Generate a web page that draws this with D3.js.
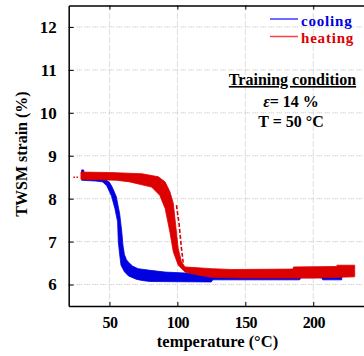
<!DOCTYPE html>
<html>
<head>
<meta charset="utf-8">
<script src="https://cdn.jsdelivr.net/npm/d3@7"></script>
<style>
  html, body { margin: 0; padding: 0; background: #fff; }
  svg { display: block; }
  text { font-family: "Liberation Serif", "Times New Roman", serif; font-weight: bold; }
</style>
</head>
<body>
<svg id="chart" width="364" height="356"></svg>
<script>
// Axis ticks
const xTicks = [50, 100, 150, 200];
const yTicks = [6, 7, 8, 9, 10, 11, 12];

// Cooling branch: outline of the overlaid cycles, [temperature °C, strain %]
const coolingUpper = [
  [29.5, 8.67], [31, 8.67], [31.5, 8.56], [40, 8.5], [46, 8.47], [50, 8.38],
  [52, 8.27], [55, 8.05], [57.5, 7.65], [59, 7.25], [60, 6.9], [61, 6.7],
  [62.5, 6.58], [64, 6.52], [67, 6.43], [71, 6.37], [80, 6.33], [91, 6.29],
  [105, 6.27], [130, 6.25], [221, 6.25]
];
const coolingLower = [
  [29.5, 8.43], [40, 8.41], [45, 8.39], [48, 8.3], [51.5, 8.06], [54, 7.77],
  [56, 7.46], [56.5, 7.0], [57.5, 6.7], [58.5, 6.45], [61, 6.3], [64, 6.2],
  [70, 6.12], [75, 6.09], [80, 6.07], [125, 6.06], [126, 6.11], [190, 6.11],
  [191, 6.16], [206, 6.16], [207, 6.11], [221, 6.11]
];

// Heating branch outline
const heatingUpper = [
  [29, 8.62], [50, 8.61], [74, 8.58], [86, 8.51], [91, 8.39], [94.5, 8.16],
  [97, 7.89], [98.2, 7.54], [100.6, 6.84], [103, 6.53], [105.6, 6.41],
  [110, 6.4], [125, 6.37], [140, 6.35], [185, 6.36], [185.5, 6.41],
  [217, 6.42], [217.5, 6.45], [230.5, 6.45]
];
const heatingLower = [
  [29, 8.45], [55, 8.43], [65, 8.39], [81, 8.27], [87, 8.08], [91, 7.77],
  [94.5, 7.22], [97, 6.76], [100.6, 6.45], [105.6, 6.29], [115, 6.22],
  [125, 6.17], [150, 6.15], [200, 6.15], [230.5, 6.18]
];
// Single dashed heating trace beside the transition
const heatingTrace = [[99.3, 7.85], [101.3, 7.4], [102.8, 6.9], [104.3, 6.5]];
// Short dashed lead-in at the start of heating
const heatingLead = [[23.5, 8.5], [27, 8.5]];

const legendItems = [
  { label: "cooling", color: "#0000e0", line: "#3a3aff" },
  { label: "heating", color: "#dd0000", line: "#ff4040" }
];

const svg = d3.select("#chart");
const x = d3.scaleLinear().domain([20, 240]).range([68.7, 367.6]);
const y = d3.scaleLinear().domain([5.5, 12.5]).range([306, 5.5]);
const plotLeft = x(20), plotRight = x(240), plotTop = y(12.5), plotBottom = y(5.5);

// Dotted grid
const grid = svg.append("g").attr("stroke", "#bdbdbd").attr("stroke-width", 1)
  .attr("stroke-dasharray", "1,1,1,1,1,3");
grid.selectAll("line.gx").data(xTicks).join("line")
  .attr("x1", d => x(d)).attr("x2", d => x(d)).attr("y1", plotTop).attr("y2", plotBottom);
grid.selectAll("line.gy").data(yTicks).join("line")
  .attr("x1", plotLeft).attr("x2", plotRight).attr("y1", d => y(d)).attr("y2", d => y(d));

// Data bands
const pt = d3.line().x(d => x(d[0])).y(d => y(d[1]));
function band(upper, lower, color) {
  const path = pt(upper.concat(lower.slice().reverse())) + "Z";
  svg.append("path").attr("d", path).attr("fill", color)
    .attr("stroke", color).attr("stroke-width", 0.8).attr("stroke-linejoin", "round");
}
band(coolingUpper, coolingLower, "#0000e0");
band(heatingUpper, heatingLower, "#dd0000");
svg.append("path").attr("d", pt(heatingTrace)).attr("fill", "none")
  .attr("stroke", "#dd0000").attr("stroke-width", 1.6).attr("stroke-dasharray", "4,2");
svg.append("path").attr("d", pt(heatingLead)).attr("fill", "none")
  .attr("stroke", "#dd0000").attr("stroke-width", 1.4).attr("stroke-dasharray", "1.5,1.5");

// Axes with inward ticks
const fmt = d3.format("d");
svg.append("g").attr("transform", `translate(0,${plotBottom})`)
  .call(d3.axisBottom(x).tickValues(xTicks).tickSizeInner(-4).tickSizeOuter(0).tickPadding(11).tickFormat(fmt))
  .call(g => g.select(".domain").attr("stroke-width", 1.5))
  .call(g => g.selectAll("text").attr("font-size", 16).attr("fill", "#000")
    .attr("font-family", "Liberation Serif").attr("font-weight", "bold").attr("letter-spacing", -0.6));
svg.append("g").attr("transform", `translate(0,${plotTop})`)
  .call(d3.axisTop(x).tickValues(xTicks).tickSizeInner(-4).tickSizeOuter(0).tickFormat(""))
  .call(g => g.select(".domain").attr("stroke-width", 1.5));
svg.append("g").attr("transform", `translate(${plotLeft},0)`)
  .call(d3.axisLeft(y).tickValues(yTicks).tickSizeInner(-5).tickSizeOuter(0).tickPadding(12).tickFormat(fmt))
  .call(g => g.select(".domain").attr("stroke-width", 1.5))
  .call(g => g.selectAll("text").attr("font-size", 17).attr("fill", "#000")
    .attr("font-family", "Liberation Serif").attr("font-weight", "bold"));

// Axis titles
svg.append("text").attr("x", 217.5).attr("y", 347).attr("text-anchor", "middle")
  .attr("font-size", 16.5).text("temperature (°C)");
svg.append("text").attr("transform", "translate(27,154) rotate(-90)")
  .attr("text-anchor", "middle").attr("font-size", 16).text("TWSM strain (%)");

// Legend
const lg = svg.append("g");
legendItems.forEach((d, i) => {
  const ly = 19 + i * 17.5;
  lg.append("line").attr("x1", 270).attr("x2", 298).attr("y1", ly).attr("y2", ly)
    .attr("stroke", d.line).attr("stroke-width", 1.5);
  lg.append("text").attr("x", 301).attr("y", ly + 6.5).attr("font-size", 15)
    .attr("letter-spacing", 0.8).attr("fill", d.color).text(d.label);
});

// Training annotation
const note = svg.append("g").attr("text-anchor", "middle");
note.append("text").attr("x", 292.5).attr("y", 85).attr("font-size", 16)
  .attr("text-decoration", "underline").text("Training condition");
const eps = note.append("text").attr("x", 291).attr("y", 106.5).attr("font-size", 16);
eps.append("tspan").attr("font-style", "italic").text("ε");
eps.append("tspan").text("= 14 %");
note.append("text").attr("x", 291).attr("y", 126.5).attr("font-size", 16).text("T = 50 °C");
</script>
</body>
</html>
